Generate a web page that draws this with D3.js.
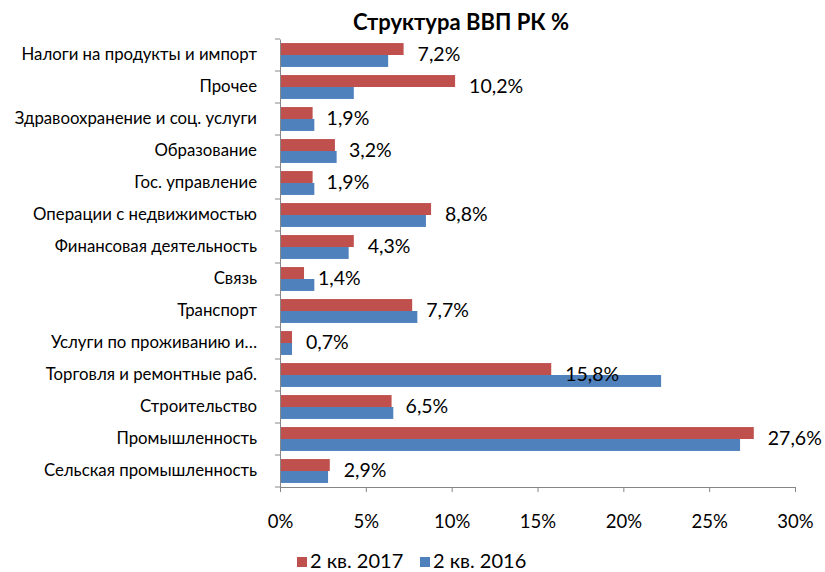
<!DOCTYPE html>
<html>
<head>
<meta charset="utf-8">
<script src="https://cdn.jsdelivr.net/npm/d3@7"></script>
<style>
  body { margin: 0; background: #fff; }
  text { font-family: Lato, "Open Sans", sans-serif; fill: #000; }
</style>
</head>
<body>
<svg id="chart"></svg>
<script>
// Dimensions
const width = 825, height = 572;
const margin = {top: 39, bottom: 85, left: 280, right: 30};

// Data (top to bottom as drawn)
const categories = [
  "Налоги на продукты и импорт",
  "Прочее",
  "Здравоохранение и соц. услуги",
  "Образование",
  "Гос. управление",
  "Операции с недвижимостью",
  "Финансовая деятельность",
  "Связь",
  "Транспорт",
  "Услуги по проживанию и…",
  "Торговля и ремонтные раб.",
  "Строительство",
  "Промышленность",
  "Сельская промышленность"
];
const q2_2017 = [7.2, 10.2, 1.9, 3.2, 1.9, 8.8, 4.3, 1.4, 7.7, 0.7, 15.8, 6.5, 27.6, 2.9];
const q2_2016 = [6.3, 4.3, 2.0, 3.3, 2.0, 8.5, 4.0, 2.0, 8.0, 0.7, 22.2, 6.6, 26.8, 2.8];
const xTicks = [0, 5, 10, 15, 20, 25, 30];
const seriesNames = ["2 кв. 2017", "2 кв. 2016"];
const colors = ["#C0504D", "#4F81BD"];

const svg = d3.select("#chart")
    .attr("width", width)
    .attr("height", height)
    .style("background", "#ffffff");

const plotBottom = 487;

const xScale = d3.scaleLinear()
    .domain([0, 30])
    .range([margin.left, 795]);

const yScale = d3.scaleBand()
    .domain(categories)
    .range([margin.top, plotBottom]);

const sub = d3.scaleBand()
    .domain([0, 1])
    .range([0, yScale.bandwidth()])
    .paddingInner(0)
    .paddingOuter(0.34);

// Title
svg.append("text")
    .attr("x", 461)
    .attr("y", 30)
    .attr("text-anchor", "middle")
    .style("font-size", "22px")
    .style("font-weight", "bold")
    .text("Структура ВВП РК %");

// Bars
[q2_2017, q2_2016].forEach((series, s) => {
  svg.append("g")
    .selectAll("rect")
    .data(series)
    .join("rect")
    .attr("x", xScale(0))
    .attr("y", (d, i) => yScale(categories[i]) + sub(s))
    .attr("width", d => xScale(d) - xScale(0))
    .attr("height", sub.bandwidth())
    .attr("fill", colors[s]);
});

// Data labels for 2017
svg.append("g")
  .selectAll("text")
  .data(q2_2017)
  .join("text")
  .attr("x", d => xScale(d) + 14)
  .attr("y", (d, i) => yScale(categories[i]) + yScale.bandwidth() / 2 + 1)
  .attr("dominant-baseline", "middle")
  .style("font-size", "19.5px")
  .text(d => d.toFixed(1).replace(".", ",") + "%");

// X axis
const xAxis = svg.append("g")
    .attr("transform", `translate(0,${plotBottom})`)
    .call(d3.axisBottom(xScale).tickValues(xTicks).tickSize(5).tickFormat(d => d + "%"));
xAxis.select(".domain").attr("stroke", "#868686");
xAxis.selectAll(".tick line").attr("stroke", "#868686");
xAxis.selectAll(".tick text")
    .attr("y", 28)
    .style("font-size", "18.5px")
    .style("font-family", "Lato, sans-serif")
    .attr("fill", "#000");

// Y axis
const yAxis = svg.append("g")
    .attr("transform", `translate(${margin.left},0)`)
    .call(d3.axisLeft(yScale).tickSize(0).tickPadding(23));
yAxis.select(".domain").attr("stroke", "#868686");
yAxis.selectAll(".tick text")
    .style("font-size", "16.8px")
    .style("font-family", "Lato, sans-serif")
    .attr("fill", "#000");
// category boundary ticks
yAxis.append("g")
  .selectAll("line")
  .data(d3.range(categories.length + 1))
  .join("line")
  .attr("x1", -5)
  .attr("x2", 0)
  .attr("y1", i => margin.top + i * yScale.step())
  .attr("y2", i => margin.top + i * yScale.step())
  .attr("stroke", "#868686");

// Legend
const legend = svg.append("g")
    .attr("transform", "translate(297, 563)");
const legendX = [0, 123];
seriesNames.forEach((name, s) => {
  legend.append("rect")
    .attr("x", legendX[s])
    .attr("y", -6)
    .attr("width", 10)
    .attr("height", 10)
    .attr("fill", colors[s]);
  legend.append("text")
    .attr("x", legendX[s] + 13)
    .attr("y", 0)
    .attr("dominant-baseline", "middle")
    .style("font-size", "20px")
    .text(name);
});
</script>
</body>
</html>
